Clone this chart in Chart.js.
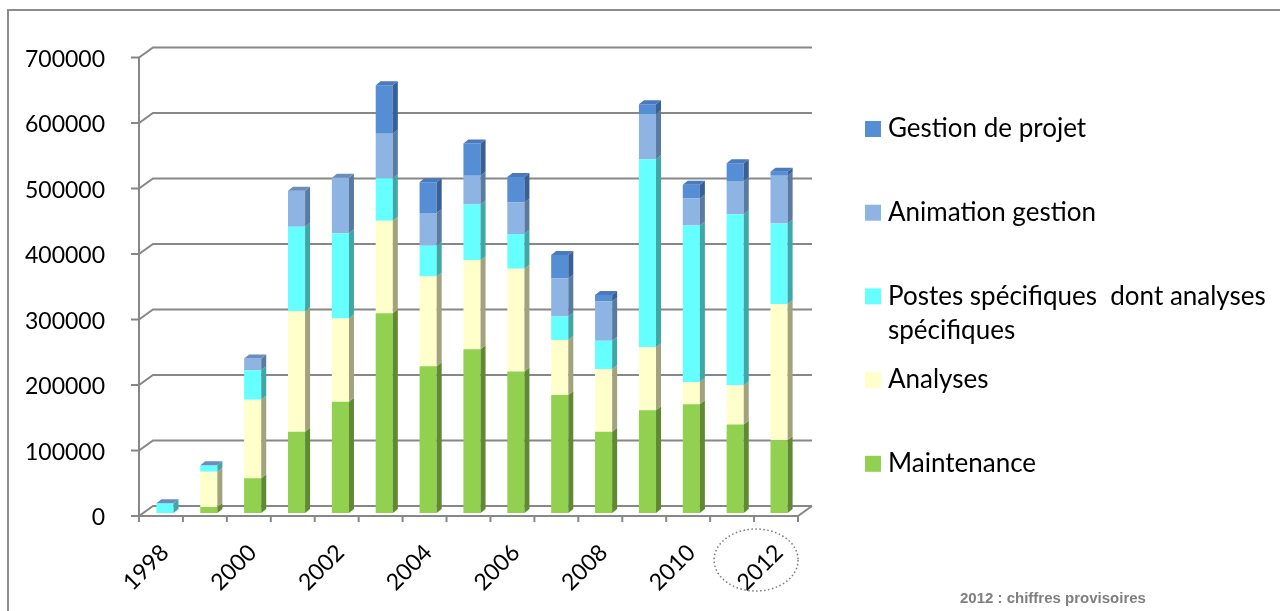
<!DOCTYPE html>
<html>
<head>
<meta charset="utf-8">
<title>Dépenses par poste 1998-2012</title>
<script src="https://cdn.jsdelivr.net/npm/chart.js@4.4.0/dist/chart.umd.min.js"></script>
<style>
  html, body { margin: 0; padding: 0; background: #fff; }
  #wrap { width: 1280px; height: 611px; }
</style>
</head>
<body>
<div id="wrap"><canvas id="myChart" width="1280" height="611"></canvas></div>
<script>
// years on the x axis
var years = ['1998', '1999', '2000', '2001', '2002', '2003', '2004', '2005',
  '2006', '2007', '2008', '2009', '2010', '2011', '2012'];

// amounts per year, one array per cost item (stacked bottom to top)
var maintenance = [0, 9000, 53000, 124000, 170000, 305000, 224000, 250000, 216000, 180000, 124000, 157000, 166000, 135000, 111000];
var analyses = [0, 54000, 120000, 184000, 127000, 141000, 137000, 136000, 157000, 84000, 96000, 96000, 34000, 60000, 208000];
var postes = [15000, 10000, 45000, 129000, 130000, 65000, 47000, 85000, 53000, 36000, 43000, 287000, 239000, 261000, 123000];
var animation = [0, 0, 18000, 55000, 85000, 68000, 50000, 44000, 48000, 58000, 60000, 69000, 41000, 51000, 73000];
var gestion = [0, 0, 0, 0, 0, 74000, 47000, 49000, 39000, 36000, 10000, 15000, 21000, 27000, 6000];

// y axis
var yMax = 700000;
var yStep = 100000;

var footnote = '2012 : chiffres provisoires';

var tickFont = { family: 'Lato', size: 23 };
var gridColor = '#878787';

// fake 3d: bar depth and wall/floor offsets
var barDx = 5, barDy = 4;

var frame3d = {
  id: 'frame3d',
  beforeDraw: function (chart) {
    var ctx = chart.ctx;
    ctx.save();
    ctx.fillStyle = '#fff';
    ctx.fillRect(0, 0, chart.width, chart.height);
    // outer border
    ctx.strokeStyle = '#8c8c8c';
    ctx.lineWidth = 2;
    ctx.strokeRect(8, 10, chart.width + 20, chart.height + 20);
    ctx.restore();
  },
  beforeDatasetsDraw: function (chart) {
    var ctx = chart.ctx;
    var area = chart.chartArea;
    var y = chart.scales.y;
    var fx = area.left - 4, bx = area.left + 10, bxEnd = area.right + 11;
    var frontRight = area.right - 3;
    ctx.save();
    ctx.strokeStyle = gridColor;
    ctx.lineWidth = 2;
    ctx.beginPath();
    for (var v = 0; v <= yMax; v += yStep) {
      var p = y.getPixelForValue(v);
      var fy = p + 3, by = p - 7;
      // front tick, diagonal to the back wall, back gridline
      ctx.moveTo(fx - 8, fy);
      ctx.lineTo(fx, fy);
      ctx.lineTo(bx, by);
      ctx.lineTo(bxEnd, by);
    }
    // front vertical axis
    var top = y.getPixelForValue(yMax) + 3;
    var bottom = y.getPixelForValue(0) + 3;
    ctx.moveTo(fx, top);
    ctx.lineTo(fx, bottom);
    // floor front edge and right side
    ctx.moveTo(fx, bottom);
    ctx.lineTo(frontRight, bottom);
    ctx.lineTo(bxEnd, y.getPixelForValue(0) - 7);
    // category ticks under the floor
    var step = (frontRight - fx) / years.length;
    for (var k = 0; k <= years.length; k++) {
      var tx = fx + k * step;
      ctx.moveTo(tx, bottom);
      ctx.lineTo(tx, bottom + 6);
    }
    ctx.stroke();
    ctx.restore();
  },
  afterDatasetsDraw: function (chart) {
    var ctx = chart.ctx;
    var sets = chart.data.datasets;
    ctx.save();
    sets.forEach(function (ds, i) {
      var meta = chart.getDatasetMeta(i);
      meta.data.forEach(function (bar) {
        if (bar.base - bar.y < 0.5) return;
        var r = bar.x + bar.width / 2;
        ctx.fillStyle = ds.sideColor;
        ctx.beginPath();
        ctx.moveTo(r, bar.y);
        ctx.lineTo(r + barDx, bar.y - barDy);
        ctx.lineTo(r + barDx, bar.base - barDy);
        ctx.lineTo(r, bar.base);
        ctx.closePath();
        ctx.fill();
      });
    });
    // top face of each stack
    var last = sets.length - 1;
    chart.getDatasetMeta(last).data.forEach(function (bar, j) {
      var l = bar.x - bar.width / 2, r = bar.x + bar.width / 2, t = bar.y;
      ctx.fillStyle = sets[last].data[j] > 0 ? '#4a79bd' : '#6a8dbc';
      ctx.beginPath();
      ctx.moveTo(l, t);
      ctx.lineTo(l + barDx, t - barDy);
      ctx.lineTo(r + barDx, t - barDy);
      ctx.lineTo(r, t);
      ctx.closePath();
      ctx.fill();
    });
    ctx.restore();
  },
  afterDraw: function (chart) {
    var ctx = chart.ctx;
    var area = chart.chartArea;
    var x = chart.scales.x;
    ctx.save();

    // legend, top series first
    var sets = chart.data.datasets.slice().reverse();
    ctx.font = '26px Lato';
    ctx.textBaseline = 'middle';
    ctx.textAlign = 'left';
    var lx = 865, ly = 129, gap = 83.7, maxW = 390;
    sets.forEach(function (ds, i) {
      var cy = ly + i * gap;
      ctx.fillStyle = ds.backgroundColor;
      ctx.fillRect(lx, cy - 8, 16, 16);
      ctx.fillStyle = '#000';
      var words = ds.label.split(' ');
      var line = '', lines = [];
      words.forEach(function (w) {
        var test = line === '' ? w : line + ' ' + w;
        if (line !== '' && ctx.measureText(test).width > maxW) {
          lines.push(line);
          line = w;
        } else {
          line = test;
        }
      });
      lines.push(line);
      lines.forEach(function (t, k) {
        ctx.fillText(t, lx + 23, cy + k * 34);
      });
    });

    // dotted ring around the provisional year
    var lastX = x.getPixelForTick(years.length - 1);
    ctx.strokeStyle = '#7a7a7a';
    ctx.lineWidth = 1.5;
    ctx.setLineDash([1.5, 2.5]);
    ctx.beginPath();
    ctx.ellipse(lastX - 23, area.bottom + 47, 42, 31, 0, 0, Math.PI * 2);
    ctx.stroke();
    ctx.setLineDash([]);

    // footnote
    ctx.font = 'bold 15px "Liberation Sans", Arial';
    ctx.fillStyle = '#7f7f7f';
    ctx.fillText(footnote, 960, 599);
    ctx.restore();
  }
};

var ctx = document.getElementById('myChart').getContext('2d');
var chart = new Chart(ctx, {
  type: 'bar',
  data: {
    labels: years,
    datasets: [
      { label: 'Maintenance', data: maintenance, backgroundColor: '#92d050', sideColor: '#5f8a33' },
      { label: 'Analyses', data: analyses, backgroundColor: '#ffffcc', sideColor: '#a3a27f' },
      { label: 'Postes spécifiques  dont analyses spécifiques', data: postes, backgroundColor: '#66ffff', sideColor: '#40a6a6' },
      { label: 'Animation gestion', data: animation, backgroundColor: '#8eb4e3', sideColor: '#5a7aa0' },
      { label: 'Gestion de projet', data: gestion, backgroundColor: '#558ed5', sideColor: '#3a5f94' }
    ]
  },
  options: {
    responsive: false,
    animation: false,
    layout: { padding: { top: 54.5, right: 479, left: 0, bottom: 0 } },
    datasets: {
      bar: { barPercentage: 0.39, categoryPercentage: 1, borderWidth: 0 }
    },
    plugins: {
      legend: { display: false },
      tooltip: { enabled: false }
    },
    scales: {
      x: {
        stacked: true,
        grid: { display: false },
        border: { display: false },
        afterFit: function (scale) { scale.height = 98; },
        ticks: {
          autoSkip: false,
          minRotation: 45,
          maxRotation: 45,
          padding: 18,
          color: '#000',
          font: tickFont,
          callback: function (val, i) { return i % 2 === 0 ? years[i] : ''; }
        }
      },
      y: {
        stacked: true,
        min: 0,
        max: yMax,
        grid: { display: false },
        border: { display: false },
        afterFit: function (scale) { scale.width = 143; },
        ticks: {
          stepSize: yStep,
          padding: 30,
          labelOffset: 5,
          color: '#000',
          font: tickFont,
          callback: function (v) { return String(v); }
        }
      }
    }
  },
  plugins: [frame3d]
});
</script>
</body>
</html>
